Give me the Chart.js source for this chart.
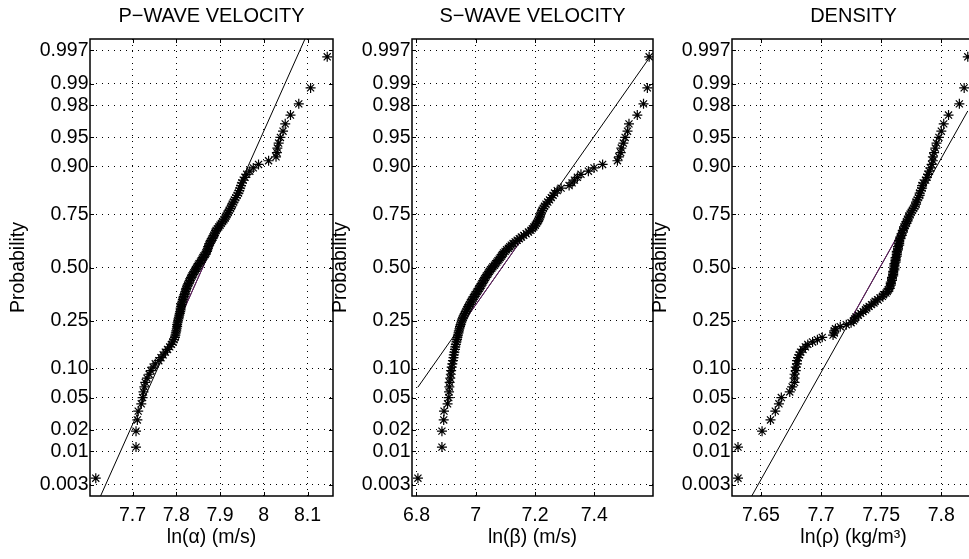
<!DOCTYPE html>
<html><head><meta charset="utf-8">
<script src="https://cdn.jsdelivr.net/npm/chart.js@4.4.0/dist/chart.umd.min.js"></script>
<style>
html,body{margin:0;padding:0;background:#fff;width:969px;height:559px;overflow:hidden;position:relative;}
canvas{position:absolute;top:0;}
</style></head><body>
<canvas id="c1"></canvas><canvas id="c2"></canvas><canvas id="c3"></canvas>
<script>
// ---------- data ----------
const sampleCount = 130;
const panelTitles = ['P\u2212WAVE VELOCITY', 'S\u2212WAVE VELOCITY', 'DENSITY'];
const xAxisLabels = ['ln(\u03B1) (m/s)', 'ln(\u03B2) (m/s)', 'ln(\u03C1) (kg/m\u00B3)'];
const yAxisLabel = 'Probability';

const probTicks = [0.003, 0.01, 0.02, 0.05, 0.10, 0.25, 0.50, 0.75, 0.90, 0.95, 0.98, 0.99, 0.997];
const probTickLabels = ['0.003', '0.01', '0.02', '0.05', '0.10', '0.25', '0.50', '0.75', '0.90', '0.95', '0.98', '0.99', '0.997'];

const pTicks = [7.7, 7.8, 7.9, 8.0, 8.1];
const pTickLabels = ['7.7', '7.8', '7.9', '8', '8.1'];
const sTicks = [6.8, 7.0, 7.2, 7.4];
const sTickLabels = ['6.8', '7', '7.2', '7.4'];
const dTicks = [7.65, 7.7, 7.75, 7.8];
const dTickLabels = ['7.65', '7.7', '7.75', '7.8'];

const pLimits = [7.6028, 8.1582];
const sLimits = [6.785, 7.598];
const dLimits = [7.626, 7.828];

// sorted samples (ln of values)
const pWave = [
7.616,7.708,7.708,7.711,7.713,7.720,7.723,7.725,7.727,7.729,
7.733,7.738,7.742,7.747,7.752,7.760,7.765,7.770,7.775,7.780,
7.785,7.789,7.792,7.795,7.797,7.798,7.799,7.800,7.801,7.802,
7.802,7.803,7.804,7.805,7.806,7.807,7.808,7.809,7.810,7.810,
7.811,7.812,7.813,7.814,7.815,7.816,7.817,7.819,7.820,7.821,
7.822,7.823,7.825,7.826,7.828,7.829,7.831,7.833,7.834,7.836,
7.838,7.840,7.842,7.844,7.846,7.848,7.850,7.852,7.855,7.857,
7.859,7.861,7.863,7.866,7.868,7.870,7.871,7.872,7.873,7.875,
7.876,7.878,7.880,7.882,7.884,7.886,7.888,7.889,7.891,7.894,
7.897,7.900,7.903,7.906,7.909,7.912,7.914,7.916,7.919,7.921,
7.924,7.926,7.928,7.931,7.933,7.936,7.939,7.942,7.944,7.946,
7.948,7.950,7.953,7.957,7.961,7.968,7.976,7.988,8.011,8.028,
8.030,8.031,8.034,8.038,8.044,8.049,8.061,8.080,8.107,8.145];

const sWave = [
6.805,6.886,6.886,6.892,6.893,6.905,6.909,6.910,6.911,6.912,
6.914,6.916,6.917,6.919,6.921,6.923,6.925,6.926,6.928,6.930,
6.931,6.933,6.935,6.937,6.938,6.940,6.942,6.943,6.945,6.947,
6.949,6.951,6.953,6.955,6.958,6.961,6.964,6.967,6.970,6.973,
6.976,6.979,6.982,6.985,6.988,6.992,6.995,6.998,7.002,7.005,
7.009,7.012,7.015,7.018,7.021,7.024,7.027,7.030,7.033,7.036,
7.040,7.043,7.046,7.050,7.054,7.058,7.063,7.067,7.071,7.075,
7.079,7.083,7.087,7.090,7.094,7.099,7.104,7.110,7.115,7.120,
7.126,7.133,7.140,7.147,7.154,7.162,7.170,7.178,7.186,7.191,
7.196,7.201,7.205,7.209,7.212,7.215,7.217,7.219,7.221,7.224,
7.228,7.232,7.237,7.243,7.249,7.255,7.261,7.266,7.275,7.288,
7.315,7.325,7.333,7.343,7.355,7.380,7.399,7.428,7.478,7.483,
7.489,7.491,7.498,7.504,7.512,7.517,7.545,7.566,7.579,7.585];

const density = [
7.631,7.631,7.651,7.658,7.662,7.665,7.667,7.674,7.676,7.678,
7.678,7.678,7.679,7.679,7.680,7.680,7.681,7.682,7.683,7.685,
7.687,7.689,7.693,7.697,7.701,7.710,7.711,7.711,7.712,7.716,
7.721,7.725,7.727,7.728,7.729,7.731,7.733,7.735,7.737,7.738,
7.740,7.742,7.744,7.745,7.747,7.749,7.751,7.752,7.754,7.755,
7.756,7.757,7.757,7.758,7.758,7.758,7.759,7.759,7.759,7.760,
7.760,7.760,7.760,7.761,7.761,7.761,7.761,7.761,7.762,7.762,
7.762,7.762,7.763,7.763,7.763,7.763,7.764,7.764,7.764,7.765,
7.765,7.765,7.765,7.766,7.766,7.767,7.767,7.768,7.768,7.769,
7.769,7.770,7.771,7.771,7.772,7.773,7.773,7.774,7.775,7.776,
7.777,7.778,7.779,7.779,7.780,7.781,7.782,7.782,7.783,7.784,
7.784,7.785,7.787,7.788,7.789,7.790,7.791,7.792,7.793,7.793,
7.794,7.795,7.796,7.798,7.800,7.802,7.806,7.815,7.819,7.822];

// reference lines (x values and standard-normal quantiles of the ends)
const pRefX = [7.616, 8.145];
const pRefZ = [-3.026, 3.52];
const sRefX = [6.8047, 7.5845];
const sRefZ = [-1.515, 2.646];
const dRefX = [7.631, 7.822];
const dRefZ = [-3.20, 1.98];
// inter-quartile segment x values (at probabilities 0.25 and 0.75)
const pQuartX = [7.806, 7.915];
const sQuartX = [6.962, 7.2146];
const dQuartX = [7.724, 7.7737];
const quartProbs = [0.25, 0.75];

// ---------- helpers ----------
function norminv(p) {
  const a = [-3.969683028665376e+01, 2.209460984245205e+02, -2.759285104469687e+02, 1.383577518672690e+02, -3.066479806614716e+01, 2.506628277459239e+00];
  const b = [-5.447609879822406e+01, 1.615858368580409e+02, -1.556989798598866e+02, 6.680131188771972e+01, -1.328068155288572e+01];
  const c = [-7.784894002430293e-03, -3.223964580411365e-01, -2.400758277161838e+00, -2.549732539343734e+00, 4.374664141464968e+00, 2.938163982698783e+00];
  const d = [7.784695709041462e-03, 3.224671290700398e-01, 2.445134137142996e+00, 3.754408661907416e+00];
  const pl = 0.02425;
  if (p < pl) { const q = Math.sqrt(-2 * Math.log(p)); return (((((c[0]*q+c[1])*q+c[2])*q+c[3])*q+c[4])*q+c[5]) / ((((d[0]*q+d[1])*q+d[2])*q+d[3])*q+1); }
  if (p > 1 - pl) { const q = Math.sqrt(-2 * Math.log(1 - p)); return -(((((c[0]*q+c[1])*q+c[2])*q+c[3])*q+c[4])*q+c[5]) / ((((d[0]*q+d[1])*q+d[2])*q+d[3])*q+1); }
  const q = p - 0.5, r = q * q;
  return (((((a[0]*r+a[1])*r+a[2])*r+a[3])*r+a[4])*r+a[5])*q / (((((b[0]*r+b[1])*r+b[2])*r+b[3])*r+b[4])*r+1);
}

const FONT = 'Liberation Sans, Arial, Helvetica, sans-serif';
const FS = 19.5;
Chart.defaults.font.family = FONT;
Chart.defaults.font.size = FS;
Chart.defaults.color = '#000';

const zLim = -norminv(0.25 / sampleCount);
const probTickZ = probTicks.map(norminv);

const framePlugin = {
  id: 'frame',
  afterDraw(chart, args, opts) {
    const {ctx, chartArea: a, scales: {x, y}} = chart;
    ctx.save();
    ctx.strokeStyle = '#000';
    ctx.lineWidth = 1;
    ctx.beginPath();
    x.ticks.forEach(t => {
      const px = Math.round(x.getPixelForValue(t.value)) + 0.5;
      ctx.moveTo(px, a.bottom); ctx.lineTo(px, a.bottom - 4);
      ctx.moveTo(px, a.top); ctx.lineTo(px, a.top + 4);
    });
    y.ticks.forEach(t => {
      const py = Math.round(y.getPixelForValue(t.value)) + 0.5;
      ctx.moveTo(a.left, py); ctx.lineTo(a.left + 4, py);
      ctx.moveTo(a.right, py); ctx.lineTo(a.right - 4, py);
    });
    ctx.stroke();
    ctx.lineWidth = 1.5;
    ctx.strokeRect(a.left, a.top, a.right - a.left, a.bottom - a.top);
    ctx.font = '20px ' + FONT;
    ctx.fillStyle = '#000';
    ctx.textAlign = 'center';
    ctx.textBaseline = 'middle';
    ctx.fillText(opts.title, (a.left + a.right) / 2, 16);
    ctx.restore();
  }
};

function makePanel(id, plotLeft, plotW, values, xTicks, xTickLabels, limits, refX, refZ, quartX, title, xLabel) {
  const cv = document.getElementById(id);
  const W = 90 + plotW + 10;
  cv.width = W; cv.height = 559;
  cv.style.left = (plotLeft - 90) + 'px';
  cv.style.width = W + 'px'; cv.style.height = '559px';
  const pts = values.map((v, i) => ({x: v, y: norminv((i + 0.5) / values.length)}));
  const ref = refX.map((v, i) => ({x: v, y: refZ[i]}));
  const quart = quartX.map((v, i) => ({x: v, y: norminv(quartProbs[i])}));
  new Chart(cv, {
    type: 'scatter',
    data: {
      datasets: [
        {data: pts, pointStyle: 'star', pointRadius: 5, borderColor: '#000', backgroundColor: '#000', borderWidth: 1.2, showLine: false, order: 0},
        {data: quart, showLine: true, borderColor: '#6a1f6a', borderWidth: 1, pointRadius: 0, order: 1},
        {data: ref, showLine: true, borderColor: '#000', borderWidth: 1, pointRadius: 0, order: 2}
      ]
    },
    options: {
      responsive: false, animation: false, events: [], devicePixelRatio: 1,
      layout: {padding: {left: 0, right: 10, top: 39, bottom: 0}, autoPadding: false},
      plugins: {legend: {display: false}, tooltip: {enabled: false}, frame: {title: title}},
      scales: {
        x: {
          type: 'linear', position: 'bottom', min: limits[0], max: limits[1],
          afterBuildTicks: s => { s.ticks = xTicks.map(v => ({value: v})); },
          afterFit: s => { s.height = 63; },
          ticks: {callback: (v, i) => xTickLabels[i], color: '#000', padding: 8, maxRotation: 0, autoSkip: false},
          grid: {color: '#000', lineWidth: 1, drawTicks: false},
          border: {display: false, dash: [1, 5]},
          title: {display: true, text: xLabel, color: '#000', padding: {top: 0, bottom: 9.3}}
        },
        y: {
          type: 'linear', min: -zLim, max: zLim,
          afterBuildTicks: s => { s.ticks = probTickZ.map(v => ({value: v})); },
          afterFit: s => { s.width = 90; },
          ticks: {callback: (v, i) => probTickLabels[i], color: '#000', padding: 1.5, autoSkip: false},
          grid: {color: '#000', lineWidth: 1, drawTicks: false},
          border: {display: false, dash: [1, 5]},
          title: {display: true, text: yAxisLabel, color: '#000', padding: {top: 7.3, bottom: 0}}
        }
      }
    },
    plugins: [framePlugin]
  });
}

makePanel('c1', 90, 243, pWave, pTicks, pTickLabels, pLimits, pRefX, pRefZ, pQuartX, panelTitles[0], xAxisLabels[0]);
makePanel('c2', 412, 241, sWave, sTicks, sTickLabels, sLimits, sRefX, sRefZ, sQuartX, panelTitles[1], xAxisLabels[1]);
makePanel('c3', 732, 243, density, dTicks, dTickLabels, dLimits, dRefX, dRefZ, dQuartX, panelTitles[2], xAxisLabels[2]);
</script>
</body></html>
